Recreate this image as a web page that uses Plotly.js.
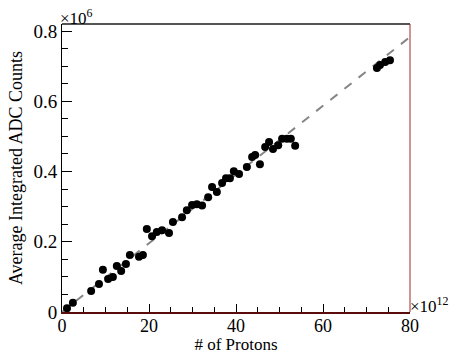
<!DOCTYPE html>
<html>
<head>
<meta charset="utf-8">
<script src="https://cdn.plot.ly/plotly-3.0.1.min.js"></script>
<style>html,body{margin:0;padding:0;background:#fff;}#chart{width:458px;height:354px;}</style>
</head>
<body>
<div id="chart"></div>
<script>
// Number of protons (x10^12)
const protons = [1.15, 2.5, 6.7, 8.5, 9.4, 10.6, 11.7, 12.6, 13.6, 14.7, 15.6, 17.7, 18.6,
  19.5, 20.7, 21.8, 23.0, 24.6, 25.5, 27.6, 28.7, 29.9, 31.0, 32.2, 33.6, 34.5, 35.6,
  36.8, 37.7, 38.6, 39.5, 40.7, 42.5, 43.7, 44.4, 45.5, 46.7, 47.6, 48.5, 49.7, 50.6,
  51.7, 52.6, 53.6, 72.4, 73.1, 74.3, 75.4];
// Average integrated ADC counts (x10^6)
const adcCounts = [0.011, 0.026, 0.060, 0.080, 0.120, 0.094, 0.100, 0.131, 0.117, 0.137, 0.162, 0.157, 0.162,
  0.236, 0.216, 0.228, 0.233, 0.225, 0.256, 0.270, 0.290, 0.305, 0.307, 0.303, 0.327, 0.356, 0.342,
  0.367, 0.381, 0.381, 0.401, 0.393, 0.413, 0.441, 0.447, 0.421, 0.470, 0.484, 0.464, 0.475, 0.493,
  0.493, 0.493, 0.473, 0.695, 0.703, 0.712, 0.717];
// Linear fit
const fitX = [0, 80];
const fitY = [0, 0.783];
const xTickVals = [0, 20, 40, 60, 80];
const xTickText = ["0", "20", "40", "60", "80"];
const yTickVals = [0, 0.2, 0.4, 0.6, 0.8];
const yTickText = ["0", "0.2", "0.4", "0.6", "0.8"];

const serif = "Liberation Serif, Times New Roman, serif";

const traces = [
  {x: fitX, y: fitY, mode: "lines", type: "scatter",
   line: {color: "#858585", width: 2, dash: "dash"}, hoverinfo: "skip"},
  {x: protons, y: adcCounts, mode: "markers", type: "scatter",
   marker: {color: "#000", size: 8, symbol: "circle"}}
];

const layout = {
  width: 458, height: 354,
  margin: {l: 62, r: 48, t: 24, b: 42},
  paper_bgcolor: "#fff", plot_bgcolor: "#fff",
  showlegend: false,
  font: {family: serif, color: "#000", size: 18},
  xaxis: {
    range: [0, 80], tickvals: xTickVals, ticktext: xTickText,
    ticks: "inside", ticklen: 8, tickwidth: 1, tickcolor: "#000",
    minor: {dtick: 5, tick0: 0, ticks: "inside", ticklen: 5, tickcolor: "#000", tickwidth: 1},
    showgrid: false, zeroline: false, showline: true, linecolor: "#5a0b0b", linewidth: 2,
    tickfont: {family: serif, size: 18}, ticklabelstandoff: -4,
    title: {text: "# of Protons", font: {family: serif, size: 17}, standoff: 0}
  },
  yaxis: {
    range: [0, 0.82], tickvals: yTickVals, ticktext: yTickText,
    ticks: "inside", ticklen: 10, tickwidth: 1, tickcolor: "#000",
    minor: {dtick: 0.05, tick0: 0, ticks: "inside", ticklen: 6, tickcolor: "#000", tickwidth: 1},
    showgrid: false, zeroline: false, showline: true, linecolor: "#000", linewidth: 1,
    tickfont: {family: serif, size: 19}, ticklabelstandoff: 0,
    title: {text: "Average Integrated ADC Counts", font: {family: serif, size: 18}, standoff: 6}
  },
  shapes: [
    {type: "line", xref: "paper", yref: "paper", x0: 0, x1: 1, y0: 1, y1: 1,
     line: {color: "#555", width: 2}},
    {type: "line", xref: "paper", yref: "paper", x0: 1, x1: 1, y0: 0, y1: 1,
     line: {color: "#9a2a2a", width: 1}}
  ],
  annotations: [
    {xref: "paper", yref: "paper", x: 0, y: 1, xanchor: "left", yanchor: "bottom",
     text: "×10<sup>6</sup>", showarrow: false, font: {family: serif, size: 17}, xshift: -4, yshift: -6},
    {xref: "paper", yref: "paper", x: 1, y: 0, xanchor: "left", yanchor: "bottom",
     text: "×10<sup>12</sup>", showarrow: false, font: {family: serif, size: 17}, xshift: -2, yshift: -6}
  ]
};

Plotly.newPlot("chart", traces, layout, {displayModeBar: false, staticPlot: true});
</script>
</body>
</html>
